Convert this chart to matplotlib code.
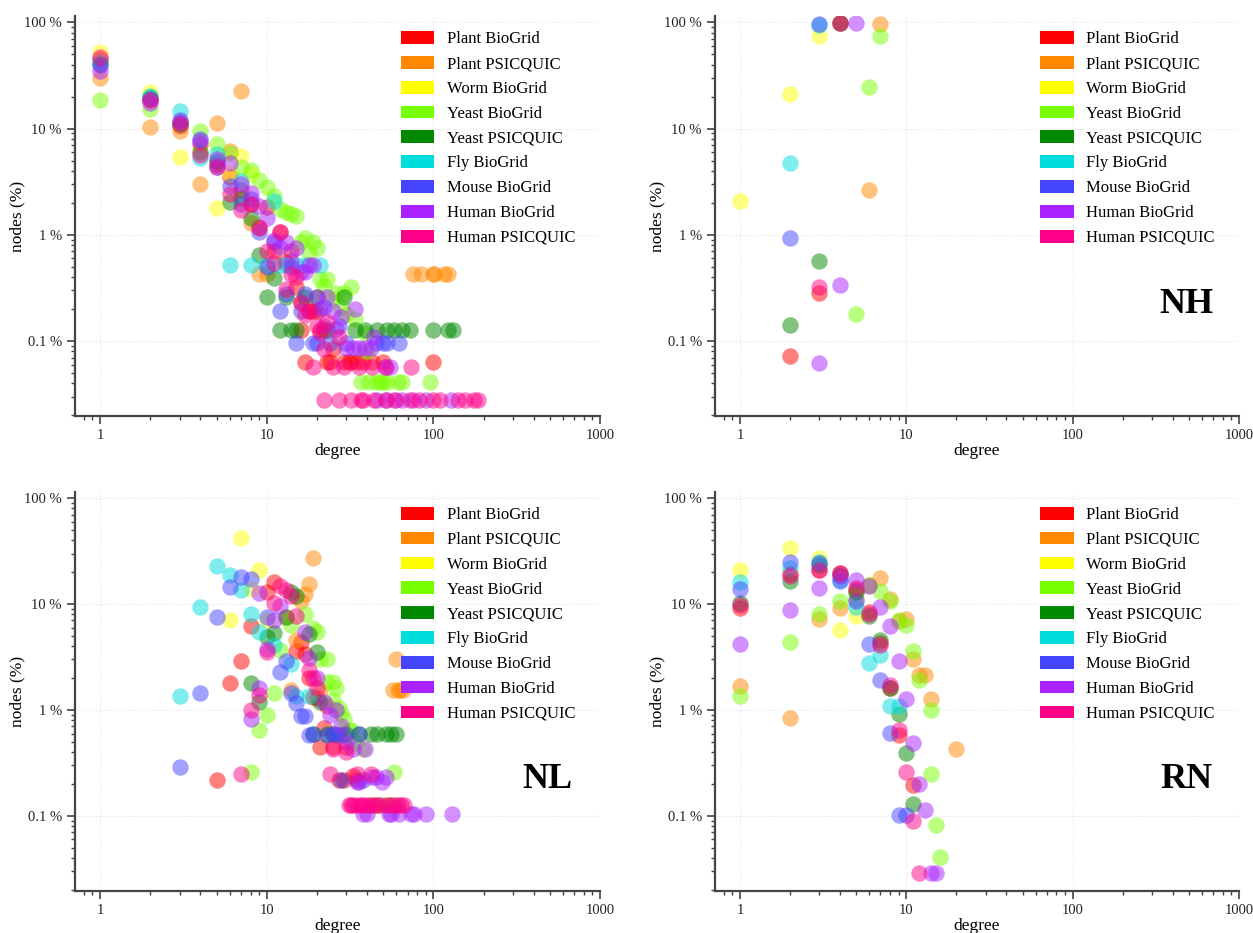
import matplotlib
matplotlib.use("Agg")
import matplotlib.pyplot as plt
from matplotlib.patches import Patch
from matplotlib.ticker import FixedLocator, FixedFormatter, LogLocator, NullFormatter

plt.rcParams['font.family'] = ['Liberation Serif', 'DejaVu Serif']

series_names = ["Plant BioGrid", "Plant PSICQUIC", "Worm BioGrid", "Yeast BioGrid",
                "Yeast PSICQUIC", "Fly BioGrid", "Mouse BioGrid", "Human BioGrid",
                "Human PSICQUIC"]
series_colors = ["#ff0000", "#ff8800", "#ffff00", "#77ff00", "#008800",
                 "#00dddd", "#4444ff", "#aa22ff", "#ff0088"]

# (degree, % of nodes) -- all nodes
all_plant_bg = [(1, 45), (2, 19), (3, 10.6), (4, 7.2), (5, 4.6), (6, 3.5), (7, 2.65), (8, 1.95),
                (9, 1.19), (10, 1.82), (11, 0.7), (12, 1.07), (13, 0.55), (14, 0.71), (15, 0.32),
                (16, 0.234), (16, 0.127), (17, 0.063), (18, 0.19), (19, 0.19), (20, 0.19), (21, 0.127),
                (22, 0.127), (23, 0.063), (24, 0.063), (25, 0.085), (29, 0.063), (31, 0.063),
                (32, 0.063), (35, 0.063), (38, 0.063), (43, 0.063), (50, 0.063), (99, 0.063)]
all_plant_ps = [(1, 30), (2, 10.3), (3, 9.4), (4, 3.0), (5, 11.3), (6, 6.1), (7, 22.4), (8, 1.3),
                (9, 0.43), (10, 0.43), (75, 0.43), (84, 0.43), (99, 0.43), (101, 0.43), (116, 0.43),
                (122, 0.43)]
all_worm_bg = [(1, 53), (2, 21.9), (3, 5.4), (4, 6.0), (5, 1.8), (6, 3.7), (7, 5.5), (8, 3.7)]
all_yeast_bg = [(1, 18.7), (2, 15.3), (3, 11), (4, 9.4), (5, 7.1), (6, 5.9), (7, 4.4), (8, 4.1),
                (9, 3.3), (10, 2.8), (11, 2.3), (12, 1.75), (13, 1.65), (14, 1.58), (15, 1.5),
                (16, 0.86), (17, 0.93), (18, 0.67), (19, 0.86), (20, 0.75), (21, 0.38), (22, 0.33),
                (23, 0.38), (25, 0.25), (26, 0.285), (28, 0.21), (29, 0.285), (30, 0.18), (32, 0.32),
                (34, 0.16), (39, 0.12), (40, 0.08), (37, 0.041), (41, 0.041), (45, 0.041),
                (48, 0.041), (50, 0.041), (53, 0.041), (61, 0.041), (65, 0.041), (95, 0.041)]
all_yeast_ps = [(1, 41), (2, 20), (3, 11), (4, 6), (5, 5), (6, 2.06), (7, 2.2), (8, 1.43), (9, 0.65),
                (10, 0.26), (11, 0.39), (12, 0.127), (13, 0.26), (14, 0.127), (15, 0.127), (17, 0.26),
                (20, 0.26), (23, 0.127), (29, 0.26), (34, 0.127), (39, 0.127), (46, 0.127),
                (53, 0.127), (58, 0.127), (65, 0.127), (72, 0.127), (99, 0.127), (122, 0.127),
                (131, 0.127)]
all_fly_bg = [(1, 42), (2, 20.5), (3, 14.7), (4, 5.3), (5, 5.8), (6, 0.52), (7, 3.2), (8, 0.52),
              (10, 0.52), (11, 2.1), (12, 0.52), (13, 0.52), (15, 0.52), (17, 0.52), (21, 0.52)]
all_mouse_bg = [(1, 40), (2, 19), (3, 12), (4, 8), (5, 4.4), (6, 2.9), (7, 1.95), (8, 2.16),
                (9, 1.07), (10, 0.5), (11, 0.85), (12, 0.19), (13, 0.28), (14, 0.5), (15, 0.096),
                (16, 0.19), (17, 0.28), (19, 0.095), (20, 0.095), (22, 0.21), (24, 0.095), (27, 0.14),
                (30, 0.095), (45, 0.095), (50, 0.095), (53, 0.095), (62, 0.095)]
all_human_bg = [(1, 34.5), (2, 17.5), (3, 11.5), (4, 7.6), (5, 5.2), (6, 4.7), (7, 3.0), (8, 2.5),
                (9, 1.85), (10, 1.43), (11, 0.9), (12, 0.77), (13, 0.85), (14, 0.57), (15, 0.75),
                (16, 0.45), (17, 0.45), (18, 0.52), (19, 0.52), (20, 0.26), (21, 0.2), (22, 0.14),
                (23, 0.26), (25, 0.19), (26, 0.13), (28, 0.17), (30, 0.087), (33, 0.087), (34, 0.2),
                (36, 0.087), (39, 0.087), (42, 0.087), (44, 0.11), (51, 0.057), (55, 0.057),
                (46, 0.028), (52, 0.028), (58, 0.028), (65, 0.028), (75, 0.028), (90, 0.028),
                (128, 0.028)]
all_human_ps = [(1, 47), (2, 18.5), (3, 11), (4, 5.7), (5, 4.4), (6, 2.4), (7, 1.7), (8, 1.95),
                (9, 1.15), (10, 0.71), (11, 0.54), (12, 1.07), (13, 0.31), (14, 0.43), (15, 0.4),
                (16, 0.23), (17, 0.176), (18, 0.19), (19, 0.057), (20, 0.14), (21, 0.12), (22, 0.085),
                (23, 0.15), (25, 0.057), (27, 0.11), (29, 0.057), (36, 0.057), (43, 0.057),
                (52, 0.057), (73, 0.057), (22, 0.028), (27, 0.028), (32, 0.028), (37, 0.028),
                (38, 0.028), (44, 0.028), (52, 0.028), (60, 0.028), (72, 0.028), (82, 0.028),
                (99, 0.028), (109, 0.028), (140, 0.028), (154, 0.028), (176, 0.028), (185, 0.028)]

# NH
nh_plant_bg = [(2, 0.072), (3, 0.285), (4, 99)]
nh_plant_ps = [(6, 2.65), (7, 97)]
nh_worm_bg = [(1, 2.1), (2, 21.4), (3, 75)]
nh_yeast_bg = [(5, 0.18), (6, 24.6), (7, 75)]
nh_yeast_ps = [(2, 0.143), (3, 0.57), (4, 99)]
nh_fly_bg = [(2, 4.7), (3, 95)]
nh_mouse_bg = [(2, 0.94), (3, 97)]
nh_human_bg = [(3, 0.062), (4, 0.34), (5, 99)]
nh_human_ps = [(3, 0.32), (4, 99)]

# NL
nl_plant_bg = [(5, 0.22), (6, 1.8), (7, 2.9), (8, 6.2), (10, 13), (11, 16), (15, 3.6), (16, 4.4),
               (17, 3.4), (18, 2.0), (19, 1.33), (20, 1.3), (21, 0.45), (22, 0.67), (23, 1.1),
               (25, 0.45), (27, 0.22), (29, 0.22), (30, 0.45), (33, 0.24), (35, 0.22)]
nl_plant_ps = [(13, 7.5), (14, 1.53), (15, 4.6), (16, 10.7), (17, 12.4), (18, 15.4), (19, 27),
               (21, 1.55), (57, 1.53), (60, 3.0), (61, 1.55), (63, 1.55), (66, 1.55)]
nl_worm_bg = [(6, 7), (7, 42), (8, 14), (9, 21), (10, 7)]
nl_yeast_bg = [(8, 0.26), (9, 0.65), (10, 0.9), (11, 1.45), (12, 3.7), (14, 6.4), (17, 8), (19, 6),
               (20, 5.4), (21, 3), (23, 3), (23, 1.83), (25, 1.83), (25, 1.25), (26, 1.6), (27, 1.05),
               (28, 0.93), (29, 0.82), (31, 0.65), (32, 0.65), (34, 0.5), (38, 0.43), (42, 0.126),
               (45, 0.126), (48, 0.126), (52, 0.126), (55, 0.126), (58, 0.26), (60, 0.126)]
nl_yeast_ps = [(8, 1.8), (9, 1.2), (10, 4.9), (11, 5.3), (13, 7.5), (14, 13), (15, 12), (18, 5.2),
               (20, 3.5), (21, 1.2), (19, 0.59), (23, 0.59), (25, 0.59), (27, 0.59), (30, 0.59),
               (36, 0.59), (42, 0.59), (46, 0.59), (52, 0.59), (56, 0.59), (60, 0.59)]
nl_fly_bg = [(3, 1.35), (4, 9.4), (5, 23), (6, 19), (7, 13.5), (8, 8), (9, 5.4), (11, 4.1),
             (14, 2.7), (15, 1.35), (18, 1.35)]
nl_mouse_bg = [(3, 0.29), (4, 1.45), (5, 7.5), (6, 14.5), (7, 18), (8, 17.3), (10, 7.5), (12, 2.3),
               (13, 2.9), (14, 1.45), (15, 1.16), (16, 0.88), (17, 0.88), (18, 0.58), (19, 0.59),
               (23, 0.58), (25, 0.59), (26, 0.58), (28, 0.22), (29, 0.58), (36, 0.59), (38, 0.22)]
nl_human_bg = [(8, 0.82), (9, 12.6), (9, 1.6), (10, 3.8), (11, 7), (12, 9.6), (17, 5.4), (18, 3.1),
               (20, 2.0), (22, 1.2), (24, 0.9), (26, 1.0), (28, 0.7), (30, 0.5), (33, 0.43),
               (35, 0.21), (36, 0.21), (39, 0.43), (43, 0.233), (45, 0.233), (49, 0.21), (52, 0.233),
               (38, 0.104), (40, 0.104), (54, 0.104), (56, 0.104), (62, 0.104), (73, 0.104),
               (77, 0.104), (90, 0.104), (129, 0.104)]
nl_human_ps = [(7, 0.25), (8, 1.0), (9, 1.4), (10, 3.5), (11, 10.3), (12, 14.8), (13, 13.5),
               (14, 12), (15, 7.8), (18, 2.4), (19, 2.0), (20, 1.6), (24, 0.25), (25, 0.43),
               (30, 0.4), (35, 0.25), (42, 0.25), (31, 0.126), (32, 0.126), (33, 0.126), (35, 0.126),
               (37, 0.126), (38, 0.126), (40, 0.126), (42, 0.126), (44, 0.126), (46, 0.126),
               (48, 0.126), (52, 0.126), (55, 0.126), (57, 0.126), (61, 0.126), (64, 0.126),
               (67, 0.126)]

# RN
rn_plant_bg = [(1, 9.2), (2, 19.3), (3, 21), (4, 19.7), (5, 13.5), (6, 8.4), (7, 4.3), (8, 1.6),
               (9, 0.58), (11, 0.195)]
rn_plant_ps = [(1, 1.7), (2, 0.85), (3, 7.2), (4, 9.2), (5, 11.1), (6, 15.3), (7, 17.7), (8, 11.1),
               (9, 6.9), (10, 7.3), (11, 3.0), (12, 2.16), (13, 2.16), (14, 1.27), (20, 0.43)]
rn_worm_bg = [(1, 21), (2, 34), (3, 27), (4, 5.7), (5, 7.7)]
rn_yeast_bg = [(1, 1.37), (2, 4.4), (3, 8.1), (4, 10.7), (5, 13), (6, 15), (7, 13.3), (8, 10.6),
               (9, 7.0), (10, 6.4), (11, 3.6), (12, 1.9), (14, 0.99), (14, 0.25), (15, 0.082),
               (16, 0.041)]
rn_yeast_ps = [(1, 10.3), (2, 16.5), (3, 23.6), (4, 19), (5, 13), (6, 7.7), (7, 4.6), (8, 1.6),
               (9, 0.91), (10, 0.39), (11, 0.13)]
rn_fly_bg = [(1, 16.1), (2, 22), (3, 25), (4, 17), (5, 9.4), (6, 2.75), (7, 3.3), (8, 1.1), (9, 1.1)]
rn_mouse_bg = [(1, 14), (2, 25), (3, 24.5), (4, 16.5), (5, 10.8), (6, 4.2), (7, 1.9), (8, 0.61),
               (9, 0.102), (10, 0.102)]
rn_human_bg = [(1, 4.2), (2, 8.7), (3, 14.3), (4, 18.4), (5, 16.7), (6, 14.8), (7, 9.4), (8, 6.2),
               (9, 2.9), (10, 1.27), (11, 0.49), (12, 0.2), (13, 0.115), (14, 0.029), (15, 0.029)]
rn_human_ps = [(1, 9.8), (2, 18.4), (3, 21), (4, 19.7), (5, 14.3), (6, 8), (7, 4.1), (8, 1.74),
               (9, 0.65), (10, 0.26), (11, 0.089), (12, 0.029)]

panels = [
    ("", [all_plant_bg, all_plant_ps, all_worm_bg, all_yeast_bg, all_yeast_ps, all_fly_bg,
          all_mouse_bg, all_human_bg, all_human_ps]),
    ("NH", [nh_plant_bg, nh_plant_ps, nh_worm_bg, nh_yeast_bg, nh_yeast_ps, nh_fly_bg,
            nh_mouse_bg, nh_human_bg, nh_human_ps]),
    ("NL", [nl_plant_bg, nl_plant_ps, nl_worm_bg, nl_yeast_bg, nl_yeast_ps, nl_fly_bg,
            nl_mouse_bg, nl_human_bg, nl_human_ps]),
    ("RN", [rn_plant_bg, rn_plant_ps, rn_worm_bg, rn_yeast_bg, rn_yeast_ps, rn_fly_bg,
            rn_mouse_bg, rn_human_bg, rn_human_ps]),
]

boxes = [[0.0599, 0.5541, 0.419, 0.4288], [0.5706, 0.5541, 0.4182, 0.4288],
         [0.0599, 0.0453, 0.419, 0.4277], [0.5706, 0.0453, 0.4182, 0.4277]]

fig = plt.figure(figsize=(12.53, 9.33), dpi=100)
axis_col = "#444444"

for (tag, data), box in zip(panels, boxes):
    ax = fig.add_axes(box)
    for pts, col in zip(data, series_colors):
        ax.scatter([p[0] for p in pts], [p[1] for p in pts], s=140, color=col,
                   alpha=0.5, linewidths=0, zorder=3)
    ax.set_xscale("log")
    ax.set_yscale("log")
    ax.set_xlim(0.708, 1000)
    ax.set_ylim(0.0197, 115)

    ax.xaxis.set_major_locator(FixedLocator([1, 10, 100, 1000]))
    ax.xaxis.set_major_formatter(FixedFormatter(["1", "10", "100", "1000"]))
    ax.yaxis.set_major_locator(FixedLocator([0.1, 1, 10, 100]))
    ax.yaxis.set_major_formatter(FixedFormatter(["0.1 %", "1 %", "10 %", "100 %"]))
    ax.xaxis.set_minor_locator(LogLocator(base=10, subs=range(2, 10)))
    ax.yaxis.set_minor_locator(LogLocator(base=10, subs=range(2, 10)))
    ax.xaxis.set_minor_formatter(NullFormatter())
    ax.yaxis.set_minor_formatter(NullFormatter())

    for s in ["top", "right"]:
        ax.spines[s].set_visible(False)
    for s in ["left", "bottom"]:
        ax.spines[s].set_color(axis_col)
        ax.spines[s].set_linewidth(1.6)
    ax.tick_params(which="major", length=6, width=1.2, color=axis_col,
                   labelsize=10.5, labelcolor="#222222")
    ax.tick_params(which="minor", length=3, width=1, color=axis_col)
    ax.grid(True, which="major", color="#e4e4e4", linestyle=":", linewidth=0.8, zorder=0)

    ax.set_xlabel("degree", fontsize=12.5)
    ax.set_ylabel("nodes (%)", fontsize=12.5)
    ax.xaxis.set_label_coords(0.5, -0.068)
    ax.yaxis.set_label_coords(-0.095, 0.5)

    handles = [Patch(facecolor=c, edgecolor="none") for c in series_colors]
    ax.legend(handles, series_names, loc="upper left", bbox_to_anchor=(0.621, 0.962),
              frameon=False, fontsize=12, borderpad=0, borderaxespad=0,
              handlelength=2.0, handleheight=0.8, handletextpad=0.75, labelspacing=0.52)

    if tag:
        ax.text(0.9, 0.28, tag, transform=ax.transAxes, fontsize=26, fontweight="bold",
                ha="center", va="center")

fig.savefig("out.png", dpi=100)
